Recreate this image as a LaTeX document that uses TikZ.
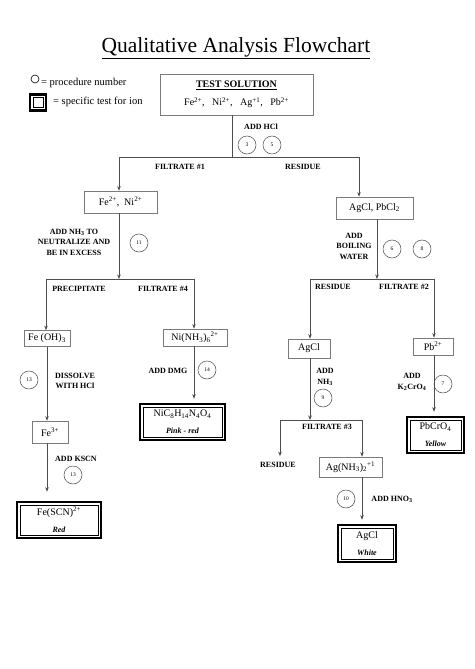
\documentclass[tikz,border=0pt]{standalone}
\usepackage{fontspec}
\setmainfont{Liberation Serif}
\usetikzlibrary{arrows.meta, positioning, calc}
\definecolor{linegray}{HTML}{4d4d4d}
\definecolor{boxgray}{HTML}{7a7a7a}

\begin{document}
\begin{tikzpicture}[
    x=1pt, y=-1pt,
    box/.style={rectangle, draw=boxgray, line width=0.7pt, font=\fontsize{10}{12}\selectfont, align=center, inner sep=0pt},
    testbox/.style={rectangle, draw=black, line width=2.6pt, font=\fontsize{10}{12}\selectfont, align=center, inner sep=0pt,
      path picture={\draw[black, line width=0.6pt] ([shift={(3.2pt,3.2pt)}]path picture bounding box.south west) rectangle ([shift={(-3.2pt,-3.2pt)}]path picture bounding box.north east);}},
    proc/.style={circle, draw=linegray, line width=0.5pt, minimum size=18pt, inner sep=0pt, font=\fontsize{5.5}{6}\selectfont},
    lbl/.style={font=\fontsize{8}{10.5}\selectfont\bfseries, align=center, inner sep=0pt},
    arr/.style={-{Stealth[length=4.5pt, width=3.5pt]}, line width=0.6pt, linegray},
    ln/.style={line width=0.6pt, linegray},
  ]
  \newcommand{\colname}[1]{{\fontsize{8}{9}\selectfont\bfseries\itshape #1}}
  \useasboundingbox[fill=white] (0,0) rectangle (474,669);

  % Title and legend
  \node[font=\fontsize{21.5}{24}\selectfont, inner sep=0pt] (title) at (236,48) {\underline{Qualitative Analysis Flowchart}};
  \node[circle, draw=black, line width=0.6pt, minimum size=8pt, inner sep=0pt] (keyproc) at (35,79) {};
  \node[anchor=west, font=\fontsize{10.5}{12}\selectfont, inner sep=0pt] (keyproctxt) at (41,83) {= procedure number};
  \node[testbox, minimum size=16pt] (keytest) at (38,102.5) {};
  \node[anchor=west, font=\fontsize{10.5}{12}\selectfont, inner sep=0pt] (keytesttxt) at (53,102) {= specific test for ion};

  % Nodes
  \node[box, minimum width=153pt, minimum height=41pt] (ts) at (236.5,94.5)
    {\textbf{\underline{TEST SOLUTION}}\\[6pt]Fe\textsuperscript{2+},~~ Ni\textsuperscript{2+},~~ Ag\textsuperscript{+1},~~ Pb\textsuperscript{2+}};
  \node[box, minimum width=73pt, minimum height=22pt] (feni) at (120.5,202) {Fe\textsuperscript{2+},~~Ni\textsuperscript{2+}};
  \node[box, minimum width=77pt, minimum height=22pt] (agpb) at (374.5,208) {AgCl, PbCl\textsubscript{2}};
  \node[box, minimum width=46pt, minimum height=16pt] (feoh) at (47,338.5) {Fe (OH)\textsubscript{3}};
  \node[box, minimum width=64pt, minimum height=17pt] (ni6) at (195,337.5) {Ni(NH\textsubscript{3})\textsubscript{6}\textsuperscript{2+}};
  \node[box, minimum width=42pt, minimum height=19pt] (agcl) at (309,348.5) {AgCl};
  \node[box, minimum width=40pt, minimum height=17pt] (pbion) at (433,346.5) {Pb\textsuperscript{2+}};
  \node[box, minimum width=36pt, minimum height=22pt] (fe3) at (50,432) {Fe\textsuperscript{3+}};
  \node[box, minimum width=63pt, minimum height=20pt] (agnh) at (350.5,467) {Ag(NH\textsubscript{3})\textsubscript{2}\textsuperscript{+1}};
  \node[testbox, minimum width=84pt, minimum height=36pt] (fescn) at (59,520) {Fe(SCN)\textsuperscript{2+}\\[5pt]\colname{Red}};
  \node[testbox, minimum width=85pt, minimum height=36pt] (nic8) at (182.5,422) {NiC\textsubscript{8}H\textsubscript{14}N\textsubscript{4}O\textsubscript{4}\\[5pt]\colname{Pink - red}};
  \node[testbox, minimum width=57pt, minimum height=36pt] (pbcro) at (435.5,435) {PbCrO\textsubscript{4}\\[5pt]\colname{Yellow}};
  \node[testbox, minimum width=58pt, minimum height=37pt] (agclw) at (367,543.5) {AgCl\\[5pt]\colname{White}};

  % Reagents and procedure numbers
  \node[lbl] (addhcl) at (261,127) {ADD HCl};
  \node[proc] (p3) at (247,145) {3};
  \node[proc] (p5) at (272,145) {5};
  \node[lbl] (filt1) at (180,167) {FILTRATE \#1};
  \node[lbl] (res1) at (303,167) {RESIDUE};
  \node[lbl] (addnh3) at (74,242) {ADD NH\textsubscript{3} TO\\NEUTRALIZE AND\\BE IN EXCESS};
  \node[proc] (p11) at (139,243) {11};
  \node[lbl] (precip) at (79,289) {PRECIPITATE};
  \node[lbl] (filt4) at (163,289) {FILTRATE \#4};
  \node[lbl] (addwater) at (354,246) {ADD\\BOILING\\WATER};
  \node[proc] (p6) at (392,249) {6};
  \node[proc] (p8) at (422,249) {8};
  \node[lbl] (res2) at (333,287) {RESIDUE};
  \node[lbl] (filt2) at (404,287) {FILTRATE \#2};
  \node[proc] (p13a) at (29,380) {13};
  \node[lbl] (dissolve) at (75,381) {DISSOLVE\\WITH HCl};
  \node[lbl] (addkscn) at (76,459) {ADD KSCN};
  \node[proc] (p13b) at (73,475) {13};
  \node[lbl] (adddmg) at (168,371) {ADD DMG};
  \node[proc] (p14) at (207,370) {14};
  \node[lbl] (addnh3b) at (325,377) {ADD\\NH\textsubscript{3}};
  \node[proc] (p9) at (323,398) {9};
  \node[lbl] (filt3) at (327,427) {FILTRATE \#3};
  \node[lbl] (res3) at (278,465) {RESIDUE};
  \node[proc] (p10) at (346,499) {10};
  \node[lbl] (addhno3) at (392,499) {ADD HNO\textsubscript{3}};
  \node[lbl] (addk2) at (412,382) {ADD\\K\textsubscript{2}CrO\textsubscript{4}};
  \node[proc] (p7) at (443,384) {7};

  % Junctions
  \coordinate (hcl) at (232,157);
  \coordinate (hclL) at (119,157);
  \coordinate (hclR) at (359,157);
  \coordinate (nh3) at (119,279);
  \coordinate (nh3L) at (46,279);
  \coordinate (nh3R) at (194,279);
  \coordinate (boil) at (377,279);
  \coordinate (boilL) at (310,279);
  \coordinate (boilR) at (434,279);
  \coordinate (amm) at (310,420);
  \coordinate (ammL) at (280,420);
  \coordinate (ammR) at (362,420);

  % Connectors
  \draw[ln] (ts.south -| hcl) -- (hcl);
  \draw[ln] (hclL) -- (hclR);
  \draw[arr] (hclL) -- (hclL |- feni.north);
  \draw[arr] (hclR) -- (hclR |- agpb.north);
  \draw[arr] (feni.south -| nh3) -- (nh3);
  \draw[ln] (nh3L) -- (nh3R);
  \draw[arr] (nh3L) -- (nh3L |- feoh.north);
  \draw[arr] (nh3R) -- (nh3R |- ni6.north);
  \draw[arr] (agpb.south -| boil) -- (boil);
  \draw[ln] (boilL) -- (boilR);
  \draw[arr] (boilL) -- (boilL |- agcl.north);
  \draw[arr] (boilR) -- (boilR |- pbion.north);
  \draw[arr] (feoh.south) -- (feoh |- fe3.north);
  \draw[arr, shorten >=9pt] (feoh |- fe3.south) -- (feoh |- fescn.north);
  \draw[arr, shorten >=4pt] (ni6.south -| nh3R) -- (nh3R |- nic8.north);
  \draw[arr] (agcl.south -| amm) -- (amm);
  \draw[ln] (ammL) -- (ammR);
  \draw[arr, shorten >=6pt] (ammL) -- (ammL |- res3.north);
  \draw[arr] (ammR) -- (ammR |- agnh.north);
  \draw[arr, shorten >=4pt] (agnh.south -| ammR) -- (ammR |- agclw.north);
  \draw[arr, shorten >=4pt] (pbion.south -| boilR) -- (boilR |- pbcro.north);
\end{tikzpicture}
\end{document}
